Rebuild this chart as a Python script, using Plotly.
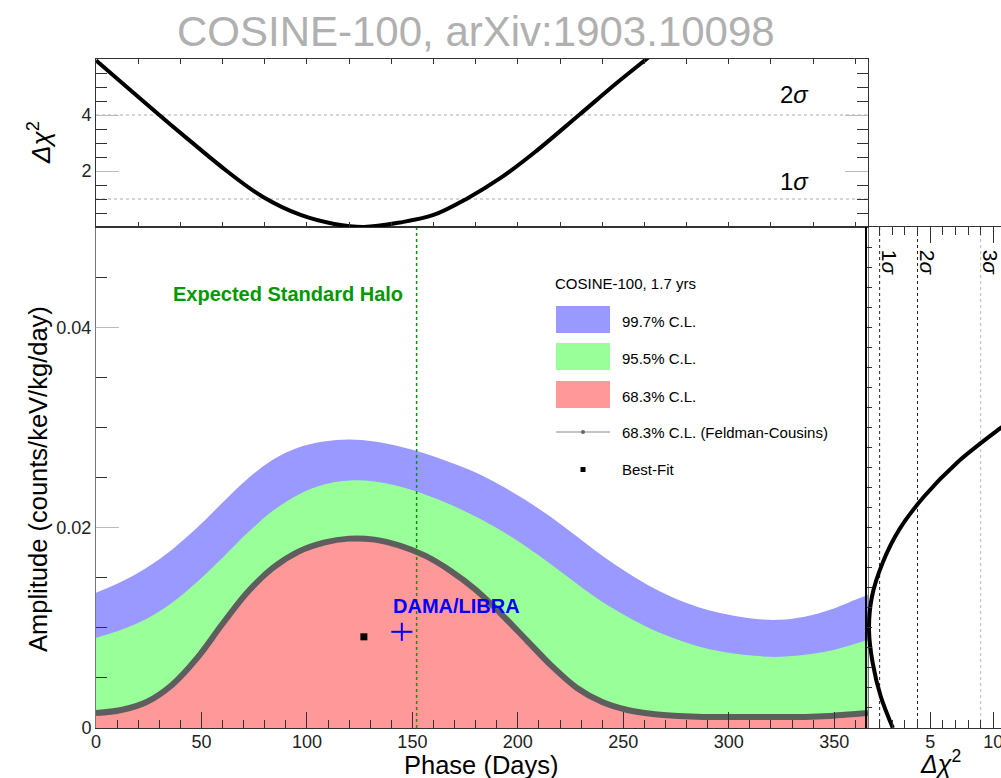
import plotly.graph_objects as go

# ---------------------------------------------------------------- data
# Phase grid (days) on which the confidence-band edges are tabulated
PHASE = [0, 12, 24, 36, 48, 60, 72, 84, 96, 108, 120, 132, 144, 156, 168, 180,
         192, 204, 216, 228, 240, 252, 264, 276, 288, 300, 312, 324, 336, 348, 360, 366]
# Upper edge of the 99.7% C.L. region (counts/keV/kg/day)
CL997_UPPER = [0.0135, 0.0146, 0.0160, 0.0178, 0.0200, 0.0225, 0.0249, 0.0268, 0.0280,
               0.0286, 0.0288, 0.0286, 0.0281, 0.0274, 0.0265, 0.0255, 0.0242, 0.0227,
               0.0210, 0.0191, 0.0172, 0.0155, 0.0140, 0.0128, 0.0119, 0.0113, 0.0109,
               0.0108, 0.0111, 0.0118, 0.0128, 0.0133]
# Upper edge of the 95.5% C.L. region
CL955_UPPER = [0.0090, 0.0098, 0.0109, 0.0125, 0.0146, 0.0170, 0.0195, 0.0217, 0.0233,
               0.0243, 0.0247, 0.0246, 0.0241, 0.0233, 0.0223, 0.0211, 0.0197, 0.0181,
               0.0163, 0.0144, 0.0126, 0.0111, 0.0098, 0.0088, 0.0080, 0.0075, 0.0072,
               0.0071, 0.0073, 0.0077, 0.0084, 0.0088]
# Upper edge of the 68.3% C.L. region (Feldman-Cousins)
CL683_UPPER = [0.0015, 0.0018, 0.0026, 0.0043, 0.0070, 0.0104, 0.0136, 0.0160, 0.0176,
               0.0185, 0.0189, 0.0188, 0.0182, 0.0172, 0.0157, 0.0138, 0.0114, 0.0088,
               0.0062, 0.0040, 0.0026, 0.0018, 0.0014, 0.0012, 0.0011, 0.0011, 0.0011,
               0.0011, 0.0011, 0.0012, 0.0014, 0.0015]

# Profile Delta chi^2 versus phase (top pad)
PROF_PHASE = [0, 15, 30, 45, 62, 79, 97, 113, 127, 144, 160, 176, 192, 208, 229, 247, 261, 270]
PROF_PHASE_DCHI2 = [5.95, 4.97, 4.0, 3.05, 2.0, 1.08, 0.43, 0.11, 0.0, 0.16, 0.43, 1.02,
                    1.76, 2.67, 4.0, 5.15, 6.0, 6.55]

# Profile Delta chi^2 versus amplitude (right pad)
PROF_AMP = [0.0, 0.0031, 0.0065, 0.0098, 0.0131, 0.0165, 0.0198, 0.0231, 0.0265, 0.0298, 0.0310]
PROF_AMP_DCHI2 = [2.05, 1.10, 0.45, 0.16, 0.39, 1.24, 2.55, 4.52, 7.15, 10.43, 11.7]

BEST_FIT = (127, 0.0091)           # phase (days), amplitude
DAMA = (145, 0.0096)               # phase, amplitude
DAMA_ERR = (5, 0.0009)             # phase error, amplitude error
HALO_PHASE = 152                   # expected standard-halo phase (June 2)
SIGMA_DCHI2 = [1, 4, 9]            # 1, 2, 3 sigma levels
SIGMA_LABELS = ["1", "2", "3"]

# ---------------------------------------------------------------- style
W, H = 1001, 778
FONT = "Liberation Sans, Arial, Helvetica, sans-serif"
BLUE, GREEN, RED = "#9999ff", "#99ff99", "#ff9999"
FC_GRAY = "#5e5e5e"
HALO_GREEN = "#009900"
AXIS_COL = "#333333"


def px_x(px):
    return px / W


def px_y(py):
    return 1 - py / H


X_MAIN = [px_x(96), px_x(868)]
Y_MAIN = [px_y(728), px_y(227)]
Y_TOP = [px_y(227), px_y(59)]
X_RIGHT = [px_x(867), 1.0]

PHASE_RANGE = [0, 366]
AMP_RANGE = [0, 0.05]

fig = go.Figure()

# confidence regions, drawn from the widest to the narrowest
for upper, col in [(CL997_UPPER, BLUE), (CL955_UPPER, GREEN), (CL683_UPPER, RED)]:
    fig.add_trace(go.Scatter(
        x=PHASE, y=upper, mode="lines", fill="tozeroy", fillcolor=col,
        line=dict(width=0, color=col, shape="spline"), hoverinfo="skip",
        xaxis="x", yaxis="y"))

# Feldman-Cousins 68.3% contour
fig.add_trace(go.Scatter(
    x=PHASE, y=CL683_UPPER, mode="lines",
    line=dict(width=6, color=FC_GRAY, shape="spline"), xaxis="x", yaxis="y"))

# expected standard halo phase
fig.add_trace(go.Scatter(
    x=[HALO_PHASE, HALO_PHASE], y=AMP_RANGE, mode="lines",
    line=dict(width=1.5, color=HALO_GREEN, dash="dot"), xaxis="x", yaxis="y"))

# best fit
fig.add_trace(go.Scatter(
    x=[BEST_FIT[0]], y=[BEST_FIT[1]], mode="markers",
    marker=dict(symbol="square", size=7, color="black"), xaxis="x", yaxis="y"))

# DAMA/LIBRA
fig.add_trace(go.Scatter(
    x=[DAMA[0]], y=[DAMA[1]], mode="markers",
    marker=dict(size=1, color="blue"),
    error_x=dict(type="data", array=[DAMA_ERR[0]], color="blue", thickness=2, width=0),
    error_y=dict(type="data", array=[DAMA_ERR[1]], color="blue", thickness=2, width=0),
    xaxis="x", yaxis="y"))

# top pad: Delta chi^2 vs phase
fig.add_trace(go.Scatter(
    x=PROF_PHASE, y=PROF_PHASE_DCHI2, mode="lines",
    line=dict(width=4, color="black", shape="spline"), xaxis="x2", yaxis="y2"))

# right pad: Delta chi^2 vs amplitude
fig.add_trace(go.Scatter(
    x=PROF_AMP_DCHI2, y=PROF_AMP, mode="lines",
    line=dict(width=4, color="black", shape="spline"), xaxis="x3", yaxis="y3"))

shapes = []
# sigma levels in the top pad (1 and 2 sigma)
for lvl in SIGMA_DCHI2[:2]:
    shapes.append(dict(type="line", xref="x2 domain", x0=0, x1=1, yref="y2", y0=lvl, y1=lvl,
                       line=dict(color="#aaaaaa", width=1, dash="dot"), layer="below"))
# sigma levels in the right pad
for lvl, col in zip(SIGMA_DCHI2, ["#222222", "#222222", "#bbbbbb"]):
    shapes.append(dict(type="line", yref="y3 domain", y0=0, y1=1, xref="x3", x0=lvl, x1=lvl,
                       line=dict(color=col, width=1, dash="dot"), layer="below"))

# legend block
LEG_X0, LEG_X1 = 556, 610
for (y0, y1), col in zip([(306, 333), (343, 370), (381, 408)], [BLUE, GREEN, RED]):
    shapes.append(dict(type="rect", xref="paper", yref="paper",
                       x0=px_x(LEG_X0), x1=px_x(LEG_X1), y0=px_y(y1), y1=px_y(y0),
                       fillcolor=col, line=dict(width=0)))
shapes.append(dict(type="line", xref="paper", yref="paper",
                   x0=px_x(LEG_X0), x1=px_x(LEG_X1), y0=px_y(432), y1=px_y(432),
                   line=dict(color="#888888", width=1)))
shapes.append(dict(type="circle", xref="paper", yref="paper",
                   x0=px_x(581), x1=px_x(585), y0=px_y(434), y1=px_y(430),
                   fillcolor="#666666", line=dict(width=0)))
shapes.append(dict(type="rect", xref="paper", yref="paper",
                   x0=px_x(580.5), x1=px_x(585.5), y0=px_y(472), y1=px_y(467),
                   fillcolor="black", line=dict(width=0)))

ann = []


def label(text, px, py, size, color="black", angle=0, xanchor="center"):
    ann.append(dict(text=text, x=px_x(px), y=px_y(py), xref="paper", yref="paper",
                    showarrow=False, xanchor=xanchor, yanchor="middle", textangle=angle,
                    font=dict(family=FONT, size=size, color=color)))


label("COSINE-100, arXiv:1903.10098", 476, 31, 42, color="#b0b0b0")
label("Phase (Days)", 481, 765, 25.5)
label("Amplitude (counts/keV/kg/day)", 38, 479, 25.5, angle=-90)
label("<i>Δχ</i><sup>2</sup>", 39, 143, 26, angle=-90)
label("<i>Δχ</i><sup>2</sup>", 940, 762, 25)

label("COSINE-100, 1.7 yrs", 553, 283, 15, xanchor="left")
for text, py in [("99.7% C.L.", 321), ("95.5% C.L.", 358), ("68.3% C.L.", 396),
                 ("68.3% C.L. (Feldman-Cousins)", 432), ("Best-Fit", 469)]:
    label(text, 620, py, 15, xanchor="left")

# text in data coordinates
ann.append(dict(text="<b>Expected Standard Halo</b>", x=91, y=0.0433, xref="x", yref="y",
                showarrow=False, font=dict(family=FONT, size=20, color=HALO_GREEN)))
ann.append(dict(text="<b>DAMA/LIBRA</b>", x=171, y=0.0122, xref="x", yref="y",
                showarrow=False, font=dict(family=FONT, size=20, color="blue")))
for s, y in [("2", 4.75), ("1", 1.63)]:
    ann.append(dict(text=s + "<i>σ</i>", x=331, y=y, xref="x2", yref="y2", showarrow=False,
                    font=dict(family=FONT, size=24, color="black")))
for s, lvl in zip(SIGMA_LABELS, SIGMA_DCHI2):
    ann.append(dict(text=s + "<i>σ</i>", x=lvl + 0.85, y=0.0464, xref="x3", yref="y3",
                    showarrow=False, textangle=90,
                    font=dict(family=FONT, size=21, color="black")))

tickfont = dict(family=FONT, size=18, color="#222222")
common = dict(showgrid=False, zeroline=False, showline=True, automargin=False)

fig.update_layout(
    width=W, height=H, margin=dict(l=0, r=0, t=0, b=0, autoexpand=False),
    paper_bgcolor="white", plot_bgcolor="rgba(0,0,0,0)", showlegend=False,
    shapes=shapes, annotations=ann,
    xaxis=dict(domain=X_MAIN, anchor="y", range=PHASE_RANGE, **common,
               linecolor=AXIS_COL, mirror=True,
               ticks="inside", tickvals=[0, 50, 100, 150, 200, 250, 300, 350], ticklen=16,
               tickcolor=AXIS_COL, minor=dict(ticks="inside", dtick=10, tick0=0, ticklen=8,
                                             tickcolor=AXIS_COL),
               tickfont=tickfont, ticklabelstandoff=-3),
    yaxis=dict(domain=Y_MAIN, anchor="x", range=AMP_RANGE, **common,
               linecolor="#777777", mirror=True,
               ticks="inside", tickvals=[0, 0.02, 0.04], ticktext=["0", "0.02", "0.04"],
               ticklen=23, tickcolor="#bbbbbb",
               minor=dict(ticks="inside", dtick=0.005, tick0=0, ticklen=11, tickcolor=AXIS_COL),
               tickfont=tickfont),
    xaxis2=dict(domain=X_MAIN, anchor="y2", range=PHASE_RANGE, **common,
                linecolor=AXIS_COL, mirror="allticks",
                ticks="inside", dtick=20, tick0=0, ticklen=5, tickcolor=AXIS_COL,
                showticklabels=False),
    yaxis2=dict(domain=Y_TOP, anchor="x2", range=[0, 6], **common,
                linecolor=AXIS_COL, mirror="allticks",
                ticks="inside", tickvals=[2, 4], ticklen=23, tickcolor="#bbbbbb",
                minor=dict(ticks="inside", dtick=0.5, tick0=0, ticklen=11, tickcolor=AXIS_COL),
                tickfont=tickfont),
    xaxis3=dict(domain=X_RIGHT, anchor="y3", range=[0, 10.61], **common,
                linecolor=AXIS_COL, mirror="allticks",
                ticks="inside", tickvals=[0, 5, 10], ticktext=["", "5", "10"], ticklen=16,
                tickcolor=AXIS_COL,
                minor=dict(ticks="inside", dtick=1, tick0=0, ticklen=8, tickcolor=AXIS_COL),
                tickfont=tickfont, ticklabelstandoff=-3, ticklabeloverflow="allow"),
    yaxis3=dict(domain=Y_MAIN, anchor="x3", range=AMP_RANGE, **common,
                linecolor="black", linewidth=2,
                ticks="inside", dtick=0.002, tick0=0, ticklen=5, tickcolor=AXIS_COL,
                showticklabels=False),
)

fig.write_html("out.html")
